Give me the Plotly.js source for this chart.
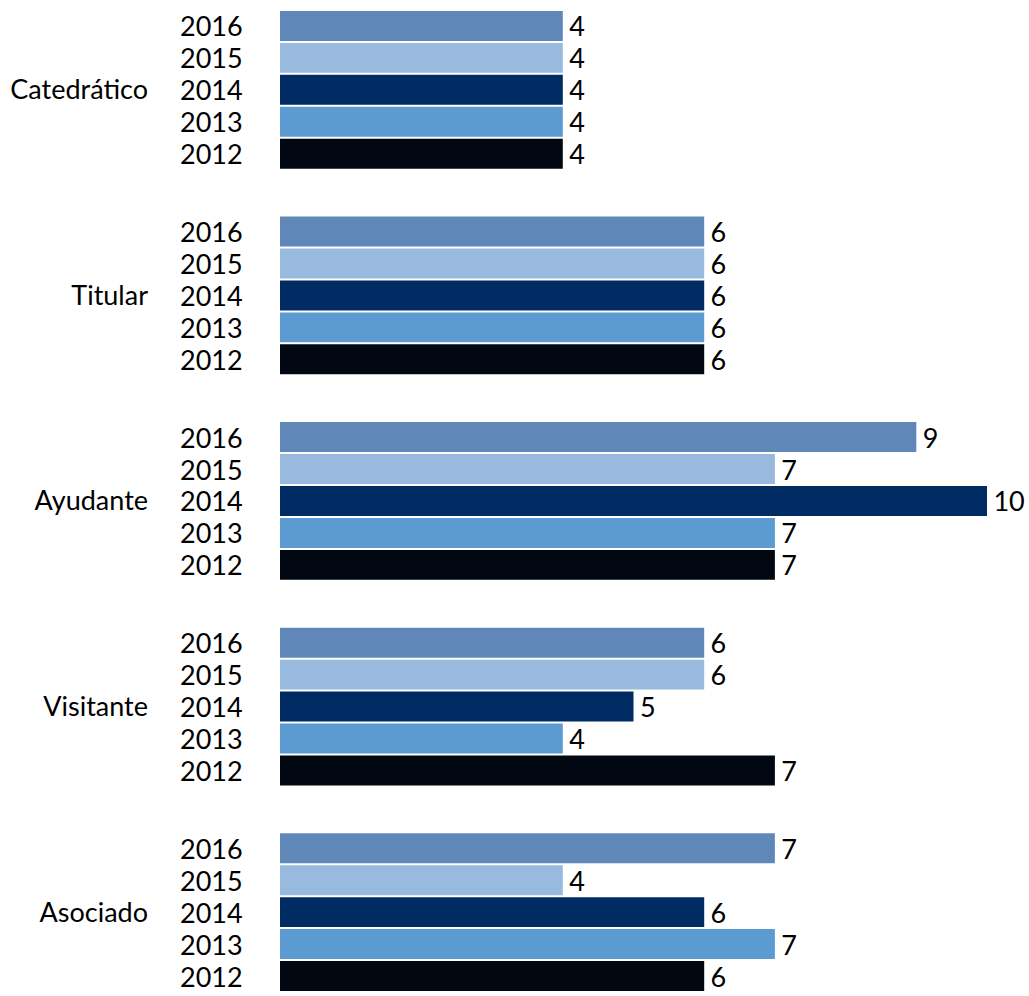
<!DOCTYPE html>
<html>
<head>
<meta charset="utf-8">
<script src="https://cdn.plot.ly/plotly-3.0.1.min.js"></script>
<style>
  html, body { margin: 0; padding: 0; background: #fff; }
  #chart { width: 1029px; height: 996px; }
</style>
</head>
<body>
<div id="chart"></div>
<script>
const categories = ['Catedrático', 'Titular', 'Ayudante', 'Visitante', 'Asociado'];
const years = ['2016', '2015', '2014', '2013', '2012'];
const v2016 = [4, 6, 9, 6, 7];
const v2015 = [4, 6, 7, 6, 4];
const v2014 = [4, 6, 10, 5, 6];
const v2013 = [4, 6, 7, 4, 7];
const v2012 = [4, 6, 7, 7, 6];
const seriesValues = [v2016, v2015, v2014, v2013, v2012];
const colors = ['#5f88b9', '#97bade', '#002c63', '#5b9bd1', '#020811'];

const FONT = 'Lato, "Noto Sans", sans-serif';
const FS = 27;
const W = 1029, H = 996;
const margin = {l: 280, r: 42, t: 0, b: 0};
const yRange = [4.408, -0.437];
const bargap = 0.223;

const traces = years.map((yr, j) => ({
  type: 'bar',
  orientation: 'h',
  name: yr,
  y: categories,
  x: seriesValues[j],
  marker: {color: colors[j], line: {width: 0}},
  texttemplate: '\u2009%{x}',
  textposition: 'outside',
  constraintext: 'none',
  cliponaxis: false,
  textfont: {family: FONT, size: FS, color: '#000'},
  hoverinfo: 'x+y+name'
}));

// pixel height of a category band and of one bar slot
const plotH = H - margin.t - margin.b;
const catPx = plotH / Math.abs(yRange[0] - yRange[1]);
const slotPx = catPx * (1 - bargap) / years.length;

const annotations = [];
categories.forEach(cat => {
  years.forEach((yr, j) => {
    annotations.push({
      xref: 'paper', yref: 'y',
      x: 0, y: cat,
      xanchor: 'right', yanchor: 'middle',
      xshift: -35,
      yshift: ((years.length - 1) / 2 - j) * slotPx,
      text: yr,
      showarrow: false,
      font: {family: FONT, size: FS, color: '#000'}
    });
  });
});

const layout = {
  width: W, height: H,
  margin: margin,
  paper_bgcolor: '#fff',
  plot_bgcolor: '#fff',
  barmode: 'group',
  bargap: bargap,
  bargroupgap: 0.0625,
  showlegend: false,
  font: {family: FONT, size: FS, color: '#000'},
  xaxis: {
    range: [0, 10],
    visible: false,
    showgrid: false,
    zeroline: false,
    fixedrange: true
  },
  yaxis: {
    type: 'category',
    range: yRange,
    showgrid: false,
    zeroline: false,
    showline: false,
    ticks: '',
    ticklabelstandoff: 131,
    tickfont: {family: FONT, size: FS, color: '#000'},
    fixedrange: true
  },
  annotations: annotations
};

Plotly.newPlot('chart', traces, layout, {displayModeBar: false, staticPlot: true});
</script>
</body>
</html>
